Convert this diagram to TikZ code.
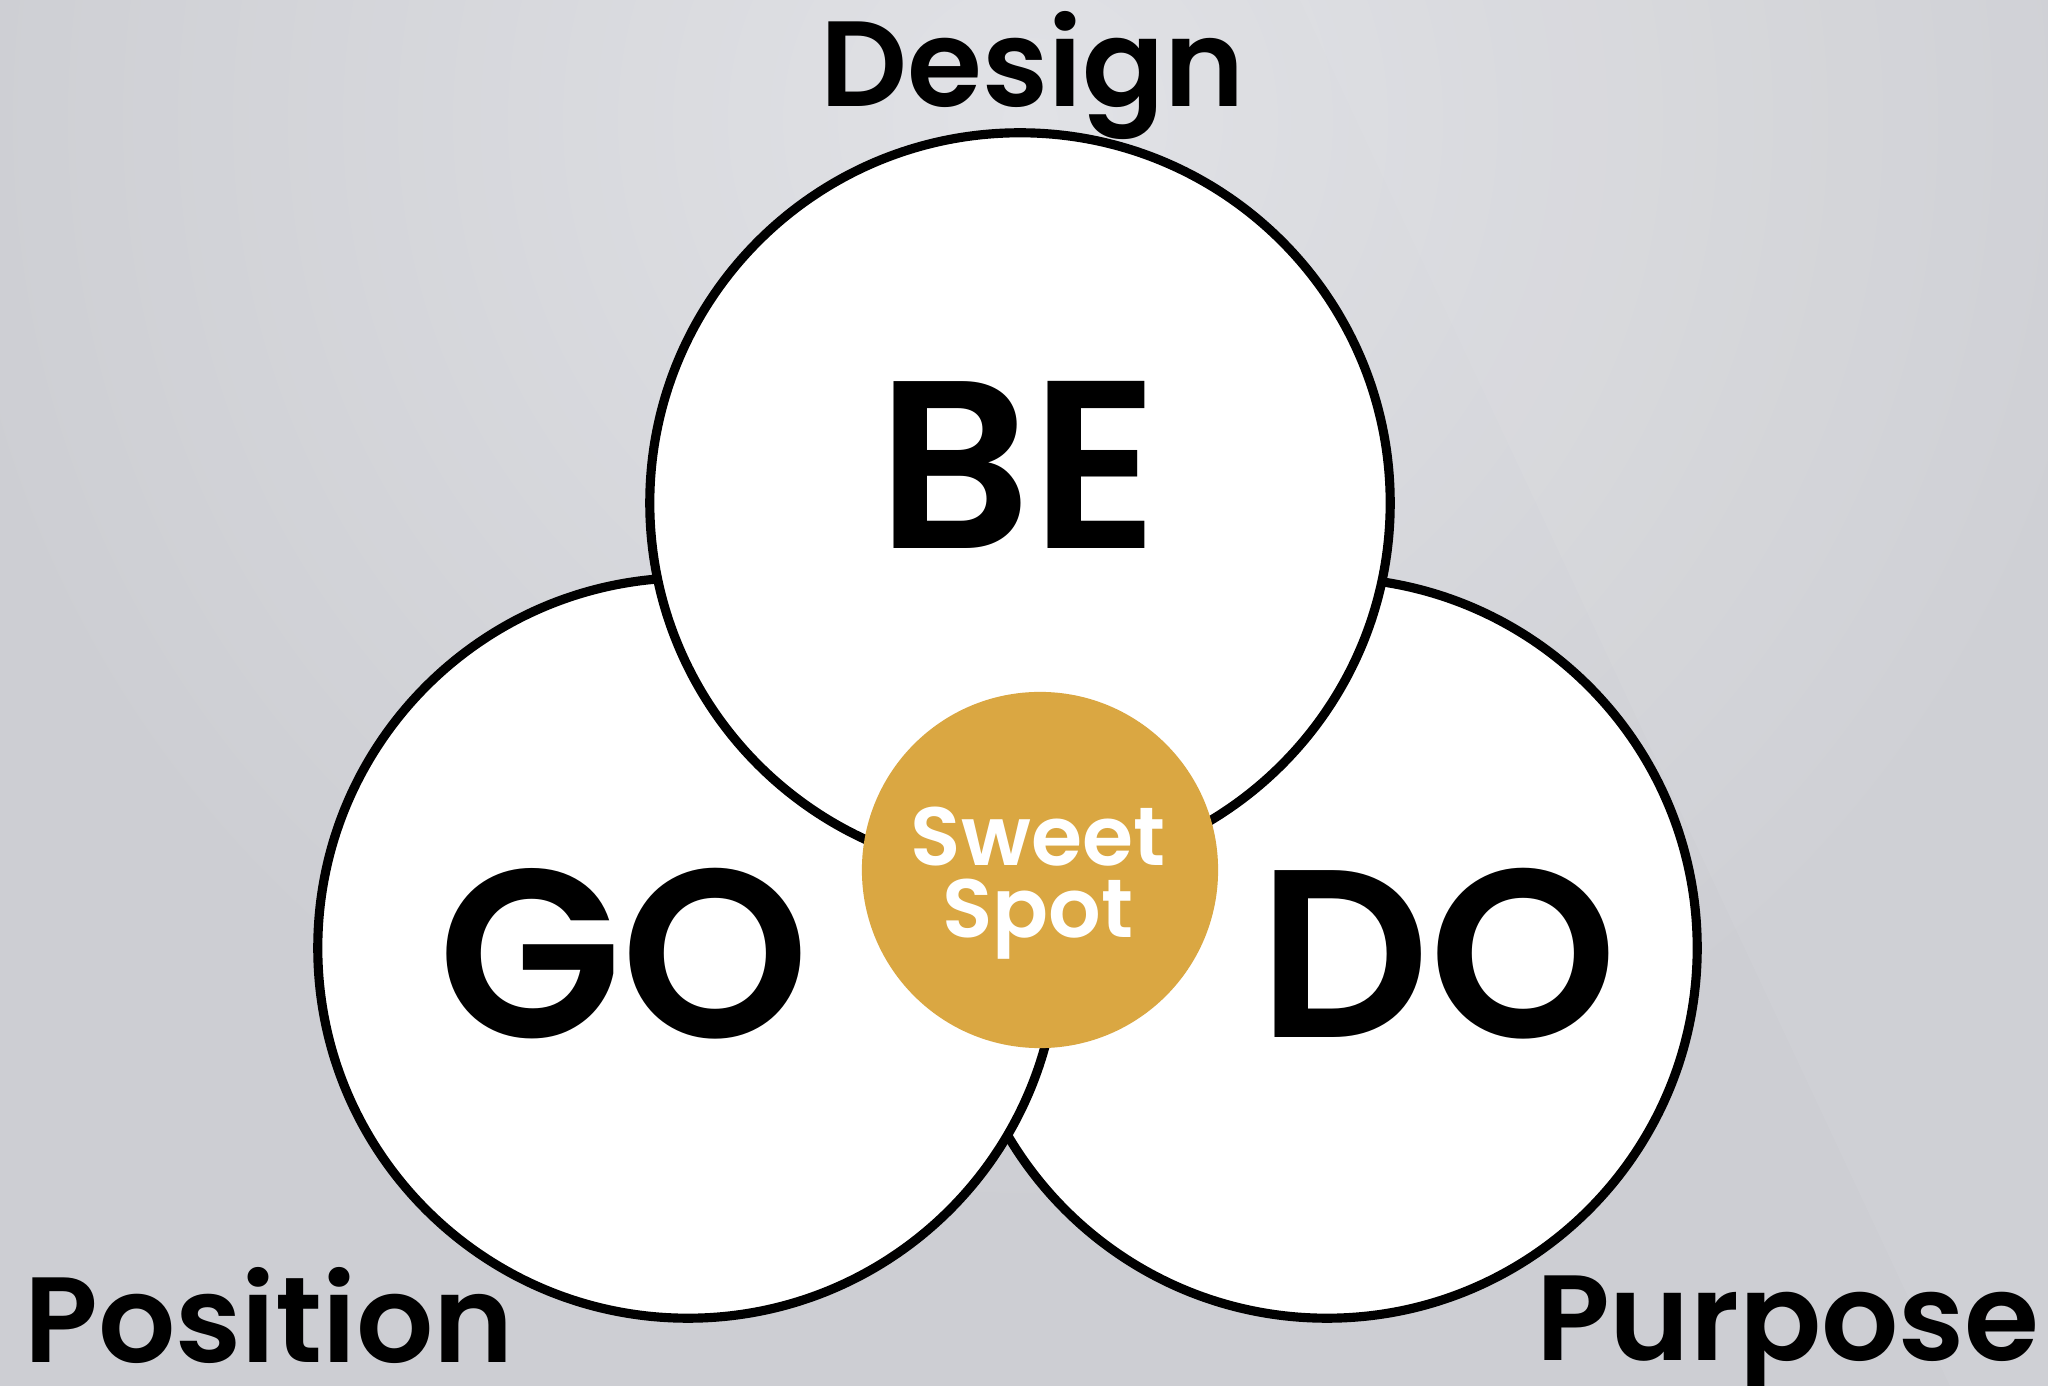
\documentclass[tikz,border=0pt]{standalone}
\usepackage{fontspec}
\setmainfont{Poppins}[BoldFont={Poppins SemiBold}]
\definecolor{bggray}{RGB}{205,206,211}
\definecolor{bglight}{RGB}{225,226,230}
\definecolor{gold}{RGB}{218,167,66}

\begin{document}
\begin{tikzpicture}[x=0.01cm, y=-0.01cm,
      ring/.style={circle, draw=black, line width=2.6pt, fill=white,
                   minimum size=7.4cm, inner sep=0pt},
      spotdisc/.style={circle, fill=gold, minimum size=3.56cm, inner sep=0pt},
      big/.style={font=\bfseries\fontsize{68}{68}\selectfont, anchor=base},
      lbl/.style={font=\bfseries\fontsize{34.5}{34.5}\selectfont, anchor=base,
                  inner sep=0pt},
      sweet/.style={font=\bfseries\fontsize{23.5}{20.7}\selectfont,
                    text=white, align=center, inner sep=0pt},
    ]

    % Background
    \useasboundingbox (0,0) rectangle (2048,1386);
    \fill[bggray] (0,0) rectangle (2048,1386);
    \shade[inner color=bglight, outer color=bggray] (1030,120) circle (1100);
    \fill[white, opacity=0.05] (1300,0) -- (2048,0) -- (2048,1386) -- (1950,1386) -- cycle;

    % Three circles, back to front
    \node[ring] (do) at (1327,948) {};
    \node[ring] (go) at (688,948) {};
    \node[ring] (be) at (1020,503) {};

    % Centre
    \node[spotdisc] (spot) at (1040,870) {};

    % Circle texts
    \node[big] (betext) at (1018,549) {BE};
    \node[big] (gotext) at (624,1038) {GO};
    \node[big] (dotext) at (1438,1038) {DO};
    \node[sweet, anchor=base] (sweettext) at (1038,938) {Sweet\\Spot};

    % Outer labels
    \node[lbl] (design)   at (1033,107)  {Design};
    \node[lbl] (position) at (269,1362)  {Position};
    \node[lbl] (purpose)  at (1788,1360) {Purpose};

    \end{tikzpicture}
\end{document}
